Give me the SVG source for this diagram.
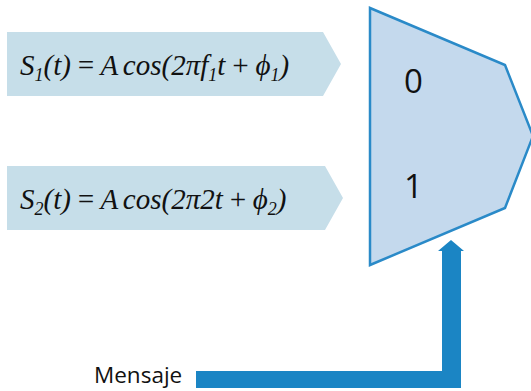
<svg xmlns="http://www.w3.org/2000/svg" width="531" height="391" viewBox="0 0 531 391">
<style>
.banner{fill:#c6dee9;stroke:none}
.eq{font-family:"Liberation Serif","Times New Roman",serif;font-style:italic;font-size:29px;word-spacing:-2px;fill:#111}
.sub{font-size:18px}
.mux{fill:#c4d9ed;stroke:#2a8ac8;stroke-width:2.5;stroke-linejoin:miter}
.digit{font-family:"Open Sans","Noto Sans",sans-serif;font-size:33px;fill:#111}
.lbl{font-family:"Open Sans","Noto Sans",sans-serif;font-size:22.5px;fill:#111}
.arrow{fill:#1b85c4;stroke:none}
</style>
<rect width="531" height="391" fill="#ffffff"/>
<g id="s1">
<polygon class="banner" points="7,32 323,32 341,64 323,96 7,96"/>
<text class="eq" x="20" y="75">S<tspan class="sub" dy="6">1</tspan><tspan dy="-6">(t) = A cos(2πf</tspan><tspan class="sub" dy="6">1</tspan><tspan dy="-6">t + ϕ</tspan><tspan class="sub" dy="6">1</tspan><tspan dy="-6">)</tspan></text>
</g>
<g id="s2">
<polygon class="banner" points="7,166 325,166 343,198 325,230 7,230"/>
<text class="eq" x="20" y="209">S<tspan class="sub" dy="6">2</tspan><tspan dy="-6">(t) = A cos(2π2t + ϕ</tspan><tspan class="sub" dy="6">2</tspan><tspan dy="-6">)</tspan></text>
</g>
<g id="mux">
<polygon class="mux" points="370,8 505,65 533,136 505,208 370,265"/>
<text class="digit" x="404" y="93">0</text>
<text class="digit" x="404" y="198">1</text>
</g>
<g id="mensaje">
<text class="lbl" x="94" y="383">Mensaje</text>
</g>
<g id="connectors">
<polygon class="arrow" points="196,371 442,371 442,251 438,251 451,240 464,251 461,251 461,388 196,388"/>
</g>
</svg>
